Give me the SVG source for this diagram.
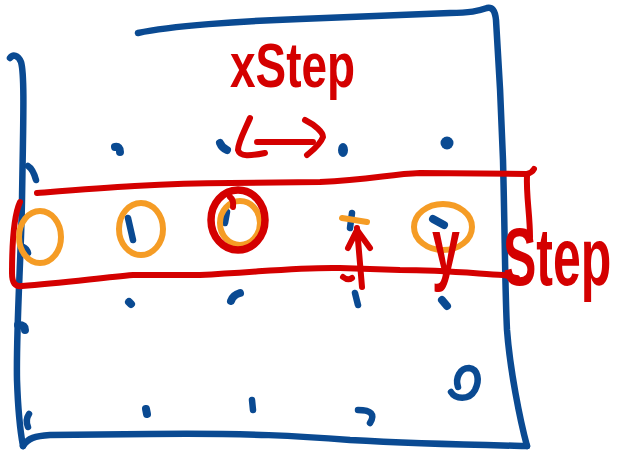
<svg xmlns="http://www.w3.org/2000/svg" width="628" height="451" viewBox="0 0 628 451">
<style>
.b{fill:none;stroke:#0a4a92;stroke-width:6.5;stroke-linecap:round;stroke-linejoin:round}
.bd{fill:none;stroke:#0a4a92;stroke-width:8;stroke-linecap:round;stroke-linejoin:round}
.r{fill:none;stroke:#d40000;stroke-width:6;stroke-linecap:round;stroke-linejoin:round}
.o{fill:none;stroke:#f59c25;stroke-width:6;stroke-linecap:round;stroke-linejoin:round}
.t{fill:#d40000;font-family:"Liberation Sans",Arial,sans-serif;font-weight:bold}
</style>
<rect width="628" height="451" fill="#fff"/>
<g id="frame">
<path class="b" d="M10,58 C13,54 18,55 21,62 C25,75 23,130 22,200 C21,260 16,330 17,380 C18,410 20,430 23,446"/>
<path class="b" d="M23,446 C28,438 35,436 50,435 L150,434 C250,433 300,436 350,440 C420,444 480,445 527,446"/>
<path class="b" d="M527,446 C520,420 510,370 507,330 C505,290 505,240 503,160 C501,100 498,50 496,20 C495,10 492,7 487,8 C478,11 470,13 450,13 L300,19 C240,21 170,26 138,33"/>
</g>
<g id="dots">
<path class="bd" d="M115,147 Q120,146 120,152"/>
<path class="bd" d="M220,143 Q222,148 227,150"/>
<ellipse cx="343" cy="150" rx="5" ry="7" fill="#0a4a92"/>
<ellipse cx="447" cy="143" rx="6.5" ry="6.5" fill="#0a4a92"/>
<path class="b" d="M28,166 Q33,169 36,180"/>
<path class="b" d="M23,247 Q27,249 28,253"/>
<path class="b" d="M128,218 L133,240"/>
<path class="b" d="M227,212 L225,223"/>
<path class="b" d="M352,213 L350,228"/>
<path class="bd" d="M433,219 L444,225"/>
<path class="bd" d="M129,302 L131,304"/>
<path class="bd" d="M231,301 Q233,295 240,293"/>
<path class="b" d="M355,293 L358,305"/>
<path class="bd" d="M442,300 L447,306"/>
<path class="bd" d="M18,325 Q25,325 25,330"/>
<path class="bd" d="M146,409 L147,414"/>
<path class="b" d="M252,400 L253,410"/>
<path class="b" d="M358,410 Q378,410 370,423"/>
<path class="b" d="M29,414 Q25,420 28,427"/>
<path class="b" d="M451,392 C455,399 469,401 475,390 C480,380 478,369 469,368 C460,368 455,378 458,387"/>
</g>
<g id="band">
<path class="r" d="M37,193 C100,188 160,183 230,183 L320,182 C370,180 390,174 420,173 L527,174 C531,173 533,171 534,169"/>
<path class="r" d="M527,175 C526,195 530,215 530,237"/>
<path class="r" d="M20,202 C14,215 12,240 12,273 C12,283 15,287 22,286 C60,283 100,278 133,275 L200,275 C260,272 300,267 340,268 L400,270 C440,270 470,273 503,275 C510,276 514,278 517,278"/>
</g>
<g id="circles">
<ellipse class="o" cx="40" cy="237" rx="21" ry="26"/>
<ellipse class="o" cx="141" cy="229" rx="22" ry="26"/>
<ellipse class="o" cx="240" cy="223" rx="20" ry="22"/>
<ellipse class="r" cx="238" cy="220" rx="27" ry="30" style="stroke-width:7.5"/>
<path class="r" d="M230,197 Q234,200 233,207"/>
<ellipse class="o" cx="443" cy="227" rx="29" ry="23"/>
<path class="o" d="M342,218 L367,222"/>
</g>
<g id="arrows">
<path class="r" d="M250,118 C245,130 238,142 238,150 C240,157 250,156 265,153"/>
<path class="r" d="M257,142 L313,142"/>
<path class="r" d="M305,120 C315,125 323,132 323,137 C320,145 313,150 307,155"/>
<path class="r" d="M357,228 L362,287"/>
<path class="r" d="M348,248 L357,230 L370,248"/>
<path class="r" d="M343,277 Q348,281 352,278"/>
</g>
<g id="labels">
<text class="t" font-size="46" transform="translate(230,87) scale(1,1.35)" x="0" y="0" textLength="125" lengthAdjust="spacingAndGlyphs">xStep</text>
<text class="t" font-size="50" transform="translate(0,285) scale(1,1.65)" y="0"><tspan x="432" y="-6">y</tspan><tspan x="503" y="0">Step</tspan></text>
</g>
</svg>
